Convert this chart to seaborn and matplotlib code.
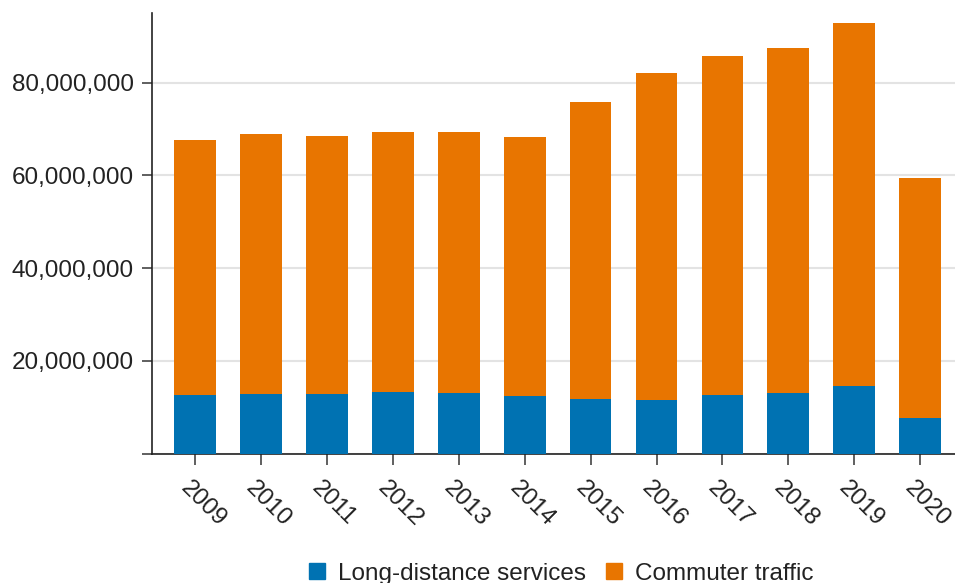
import pandas as pd
import numpy as np
import matplotlib
matplotlib.use('Agg')
import matplotlib.pyplot as plt
import matplotlib.transforms as mtransforms
from matplotlib.lines import Line2D
from matplotlib.ticker import FuncFormatter
import seaborn as sns

# values
years = ['2009', '2010', '2011', '2012', '2013', '2014',
         '2015', '2016', '2017', '2018', '2019', '2020']
long_distance = [12.7, 12.9, 12.8, 13.2, 13.1, 12.5,
                 11.8, 11.5, 12.6, 13.0, 14.5, 7.7]  # millions
commuter = [54.9, 56.0, 55.6, 56.1, 56.2, 55.7,
            64.1, 70.6, 73.1, 74.5, 78.3, 51.7]  # millions

blue = '#0072B2'
orange = '#E87500'

df = pd.DataFrame({'year': years,
                   'long': np.array(long_distance) * 1e6,
                   'commuter': np.array(commuter) * 1e6})
df['total'] = df['long'] + df['commuter']

sns.set_style('white')
plt.rcParams['font.family'] = ['Liberation Sans', 'DejaVu Sans']
plt.rcParams['text.color'] = '#222222'

fig = plt.figure(figsize=(9.55, 5.83), dpi=100)
ax = fig.add_axes([152 / 955, 1 - 453.5 / 583, 803 / 955, 440.5 / 583])

# stacked bars: total in orange, long-distance on top of it in blue
sns.barplot(data=df, x='year', y='total', color=orange, saturation=1,
            width=0.633, linewidth=0, ax=ax, zorder=2)
sns.barplot(data=df, x='year', y='long', color=blue, saturation=1,
            width=0.633, linewidth=0, ax=ax, zorder=3)

ax.set_xlim(-0.657, 11.53)
ax.set_ylim(0, 95e6)
ax.set_xlabel('')
ax.set_ylabel('')

ax.set_yticks([0, 20e6, 40e6, 60e6, 80e6])
ax.yaxis.set_major_formatter(FuncFormatter(lambda v, p: '' if v == 0 else f'{int(v):,}'))
ax.yaxis.grid(True, color='#e3e3e3', linewidth=1.5, zorder=0)
ax.set_axisbelow(True)

for s in ['top', 'right']:
    ax.spines[s].set_visible(False)
for s in ['left', 'bottom']:
    ax.spines[s].set_color('#222222')
    ax.spines[s].set_linewidth(1.2)

ax.tick_params(axis='y', left=True, length=7, width=1.2, color='#444444',
               labelsize=17.5, pad=6, labelcolor='#222222')
ax.tick_params(axis='x', bottom=True, length=8, width=1.2, color='#444444',
               labelsize=17.5, pad=4, labelcolor='#222222')

# rotated year labels hanging from the ticks
offset = mtransforms.ScaledTranslation(-4 / 100, -7 / 100, fig.dpi_scale_trans)
for lab in ax.get_xticklabels():
    lab.set_rotation(-45)
    lab.set_ha('left')
    lab.set_va('top')
    lab.set_rotation_mode('anchor')
    lab.set_transform(lab.get_transform() + offset)

handles = [Line2D([], [], marker='s', linestyle='', color=blue, markersize=11),
           Line2D([], [], marker='s', linestyle='', color=orange, markersize=11)]
fig.legend(handles, ['Long-distance services', 'Commuter traffic'],
           loc='center', bbox_to_anchor=(561 / 955, 0.016), ncol=2,
           frameon=False, fontsize=17.5, handlelength=0.7,
           handletextpad=0.5, columnspacing=0.8)

fig.savefig('out.png', dpi=100)
